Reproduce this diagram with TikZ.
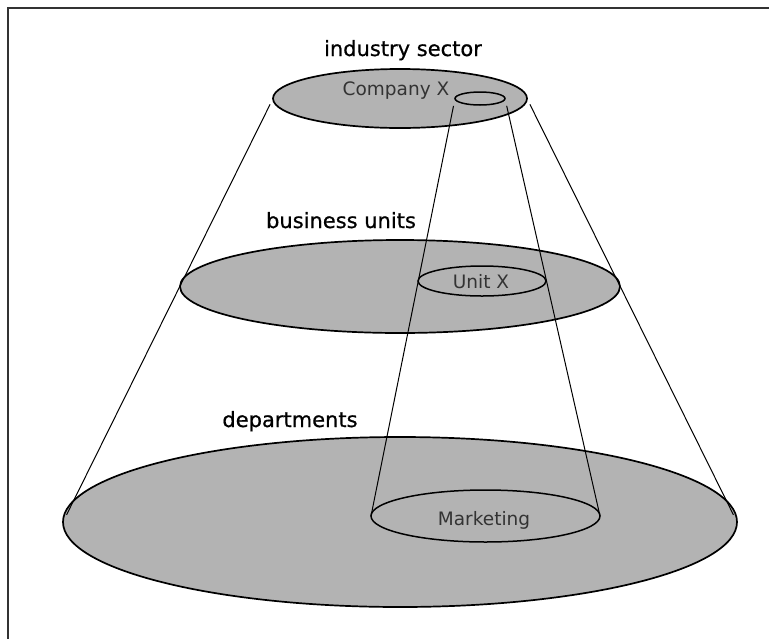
\documentclass[tikz,border=0pt]{standalone}
\usepackage{fontspec}
\setmainfont{DejaVu Sans}
\newfontfamily\headfont{DejaVu Sans}[FakeBold=0.7]
\usetikzlibrary{shapes.geometric}
\definecolor{discgray}{RGB}{179,179,179}
\definecolor{framegray}{RGB}{50,50,50}
\begin{document}
\begin{tikzpicture}[x=1pt,y=-1pt,
  disc/.style={ellipse, draw=black, line width=1.7pt, fill=discgray, inner sep=0pt, outer sep=0pt},
  ring/.style={ellipse, draw=black, line width=1.5pt, inner sep=0pt, outer sep=0pt},
  head/.style={font=\headfont\fontsize{21}{25}\selectfont, text=black, anchor=base, inner sep=0pt},
  inlabel/.style={font=\fontsize{18.5}{22}\selectfont, text=black!80, anchor=base, inner sep=0pt},
  cone/.style={draw=black, line width=1pt}]
\useasboundingbox (0,0) rectangle (769,638);
\draw[line width=2pt, draw=framegray] (8,640) -- (8,7.5) -- (771,7.5);
% discs
\node[disc, minimum width=254pt, minimum height=59pt] (sector) at (400,98.5) {};
\node[ring, minimum width=50pt, minimum height=13pt] (compx) at (480,98.5) {};
\node[disc, minimum width=440pt, minimum height=93pt] (units) at (400,286.5) {};
\node[ring, minimum width=128pt, minimum height=30pt] (unitx) at (482,281) {};
\node[disc, minimum width=674pt, minimum height=170pt] (depts) at (400,522) {};
\node[ring, minimum width=229pt, minimum height=52pt] (mkt) at (485.5,516) {};
% labels
\node[head] (lsector) at (403,56) {industry sector};
\node[head] (lunits) at (341,228) {business units};
\node[head] (ldepts) at (290,427) {departments};
\node[inlabel] (lcomp) at (396,95) {Company X};
\node[inlabel] (lunitx) at (481,288) {Unit X};
\node[inlabel] (lmkt) at (484,525) {Marketing};
% cone lines
\draw[cone, shorten <=6.5pt, shorten >=8pt] (sector.west) -- (depts.west);
\draw[cone, shorten <=6.5pt, shorten >=8pt] (sector.east) -- (depts.east);
\draw[cone, shorten <=7.5pt] (compx.west) -- (mkt.west);
\draw[cone, shorten <=7.5pt] (compx.east) -- (mkt.east);
\end{tikzpicture}
\end{document}
